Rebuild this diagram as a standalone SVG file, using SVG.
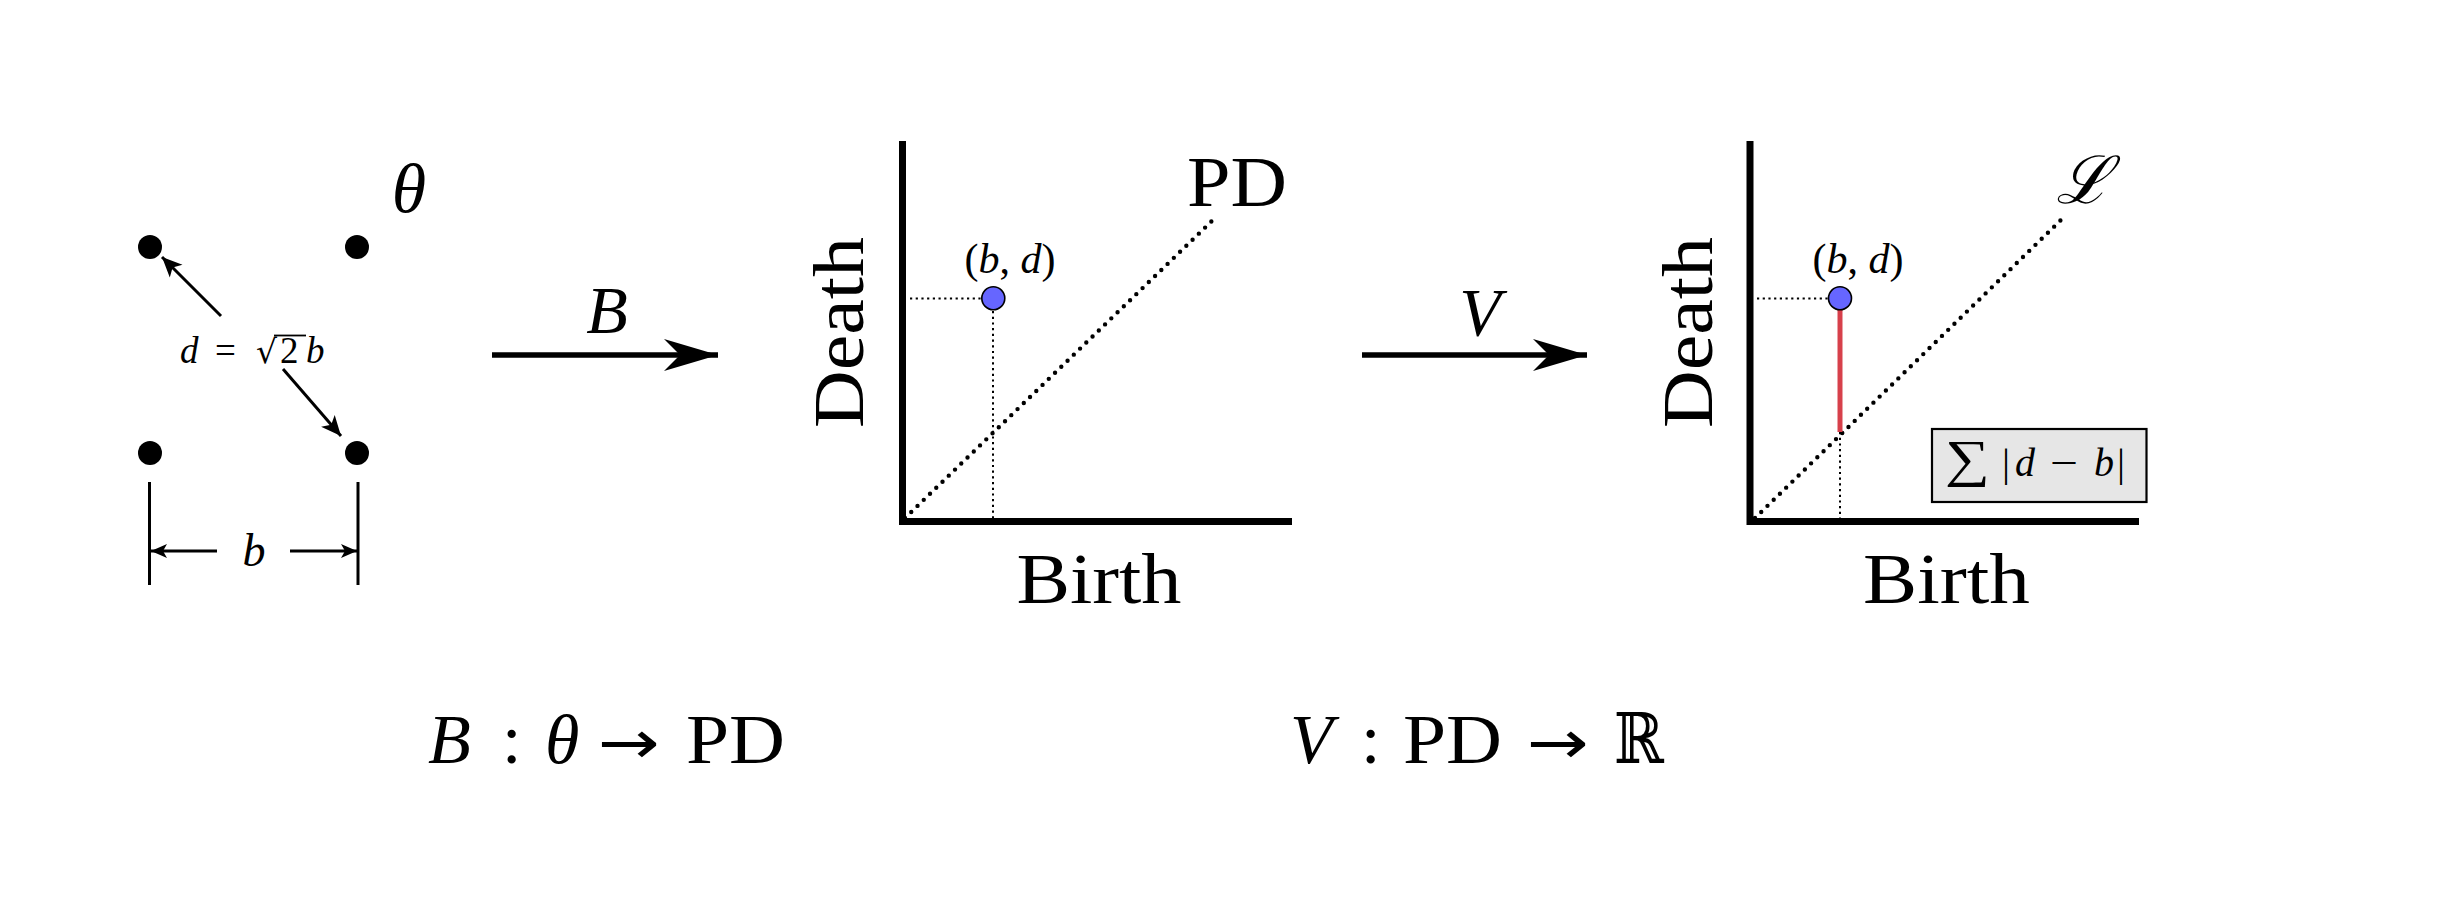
<svg xmlns="http://www.w3.org/2000/svg" width="2459" height="905" viewBox="0 0 2459 905">
<style>
text{font-family:"Liberation Serif","DejaVu Serif",serif;fill:#000}
.it{font-style:italic}
.arr{font-family:"DejaVu Sans",sans-serif}
.axis{stroke:#000;stroke-width:7;fill:none}
.diag{stroke:#000;stroke-width:4.4;stroke-linecap:round;stroke-dasharray:0 8.7;fill:none}
.guide{stroke:#000;stroke-width:2;stroke-dasharray:2.2 3.5;fill:none}
.big{stroke:#000;stroke-width:5.5;fill:none}
.thin{stroke:#000;stroke-width:3;fill:none}
.pt{fill:#000}
.pdpt{fill:#6666ff;stroke:#000;stroke-width:1.6}
</style>
<defs>
<marker id="bigHead" markerUnits="userSpaceOnUse" viewBox="-56 -18 58 36" refX="0" refY="0" markerWidth="58" markerHeight="36" orient="auto">
<path d="M0,0 L-54,-16 L-38,0 L-54,16 Z" fill="#000"/>
</marker>
<marker id="smallHead" markerUnits="userSpaceOnUse" viewBox="-22 -11 24 22" refX="0" refY="0" markerWidth="24" markerHeight="22" orient="auto">
<path d="M0,0 L-20,-9 L-15,0 L-20,9 Z" fill="#000"/>
</marker>
<marker id="dimHead" markerUnits="userSpaceOnUse" viewBox="-18 -9 20 18" refX="0" refY="0" markerWidth="20" markerHeight="18" orient="auto">
<path d="M0,0 L-16,-7 L-12,0 L-16,7 Z" fill="#000"/>
</marker>
</defs>

<g id="theta-config">
<circle class="pt" cx="150" cy="247" r="12"/>
<circle class="pt" cx="357" cy="247" r="12"/>
<circle class="pt" cx="150" cy="453" r="12"/>
<circle class="pt" cx="357" cy="453" r="12"/>
<text class="it" x="409" y="212" font-size="70" text-anchor="middle">θ</text>
<text font-size="37" y="363"><tspan class="it" x="180">d</tspan><tspan x="215">=</tspan><tspan x="256" font-family="DejaVu Serif" font-size="33">√</tspan><tspan x="280">2</tspan><tspan class="it" x="306">b</tspan></text>
<line x1="274" y1="335.5" x2="306" y2="335.5" stroke="#000" stroke-width="1.8"/>
<line class="thin" x1="149.5" y1="482" x2="149.5" y2="585"/>
<line class="thin" x1="358" y1="482" x2="358" y2="585"/>
<text class="it" x="254" y="566" font-size="46" text-anchor="middle">b</text>
</g>

<g id="pd-diagram">
<path class="axis" d="M902.5,141 V525 M899,521.5 H1292"/>
<line class="diag" x1="905" y1="518" x2="1215" y2="218"/>
<line class="guide" x1="910" y1="298.5" x2="981" y2="298.5"/>
<line class="guide" x1="993" y1="311" x2="993" y2="518"/>
<circle class="pdpt" cx="993.3" cy="298.3" r="11.5"/>
<text x="1010" y="273" font-size="42" text-anchor="middle">(<tspan class="it">b</tspan>, <tspan class="it">d</tspan>)</text>
<text x="1187" y="206" font-size="72" textLength="100" lengthAdjust="spacingAndGlyphs">PD</text>
<text transform="translate(863,332.5) rotate(-90)" font-size="72" text-anchor="middle" textLength="191" lengthAdjust="spacingAndGlyphs">Death</text>
<text x="1099" y="603" font-size="72" text-anchor="middle" textLength="165" lengthAdjust="spacingAndGlyphs">Birth</text>
</g>

<g id="vec-diagram">
<path class="axis" d="M1750,141 V525 M1746.5,521.5 H2139"/>
<line class="diag" x1="1755" y1="518" x2="2062" y2="219"/>
<line class="guide" x1="1757" y1="298.5" x2="1828" y2="298.5"/>
<line class="guide" x1="1840" y1="432" x2="1840" y2="518"/>
<line x1="1840" y1="305" x2="1840" y2="432" stroke="#d7404b" stroke-width="5"/>
<circle class="pdpt" cx="1840" cy="298.3" r="11.5"/>
<text x="1858" y="273" font-size="42" text-anchor="middle">(<tspan class="it">b</tspan>, <tspan class="it">d</tspan>)</text>
<text class="it" x="2083" y="203" font-size="66" text-anchor="middle">ℒ</text>
<text transform="translate(1711.7,332.5) rotate(-90)" font-size="72" text-anchor="middle" textLength="191" lengthAdjust="spacingAndGlyphs">Death</text>
<text x="1946.5" y="603" font-size="72" text-anchor="middle" textLength="167" lengthAdjust="spacingAndGlyphs">Birth</text>
</g>

<g id="sum-box">
<rect x="1932" y="429" width="214.5" height="73" fill="#e6e6e6" stroke="#000" stroke-width="2.2"/>
<text y="476" font-size="40"><tspan x="1945" font-size="52" textLength="45" lengthAdjust="spacingAndGlyphs">∑</tspan><tspan x="2002">|</tspan><tspan class="it" x="2015">d</tspan><tspan x="2050" textLength="28" lengthAdjust="spacingAndGlyphs">−</tspan><tspan class="it" x="2094">b</tspan><tspan x="2117">|</tspan></text>
</g>

<g id="label-B">
<text class="it" x="607" y="333" font-size="68" text-anchor="middle">B</text>
</g>
<g id="label-V">
<text class="it" x="1480" y="335" font-size="68" text-anchor="middle">V</text>
</g>

<g id="caption-B">
<text y="763" font-size="70"><tspan class="it" x="428">B</tspan><tspan x="502">:</tspan><tspan class="it" x="545">θ</tspan><tspan class="arr" x="598" font-size="60" textLength="62" lengthAdjust="spacingAndGlyphs">→</tspan><tspan x="686" textLength="99" lengthAdjust="spacingAndGlyphs">PD</tspan></text>
</g>
<g id="caption-V">
<text y="763" font-size="70"><tspan class="it" x="1290">V</tspan><tspan x="1361">:</tspan><tspan x="1403" textLength="99" lengthAdjust="spacingAndGlyphs">PD</tspan><tspan class="arr" x="1527" font-size="60" textLength="62" lengthAdjust="spacingAndGlyphs">→</tspan><tspan x="1614" textLength="50" lengthAdjust="spacingAndGlyphs">ℝ</tspan></text>
</g>

<g id="connectors">
<line class="big" x1="492" y1="355" x2="718" y2="355" marker-end="url(#bigHead)"/>
<line class="big" x1="1362" y1="355" x2="1587" y2="355" marker-end="url(#bigHead)"/>
<line class="thin" x1="221" y1="316" x2="162" y2="257" marker-end="url(#smallHead)"/>
<line class="thin" x1="283" y1="369" x2="341" y2="436" marker-end="url(#smallHead)"/>
<line class="thin" x1="217" y1="551" x2="151" y2="551" marker-end="url(#dimHead)"/>
<line class="thin" x1="290" y1="551" x2="357" y2="551" marker-end="url(#dimHead)"/>
</g>
</svg>
